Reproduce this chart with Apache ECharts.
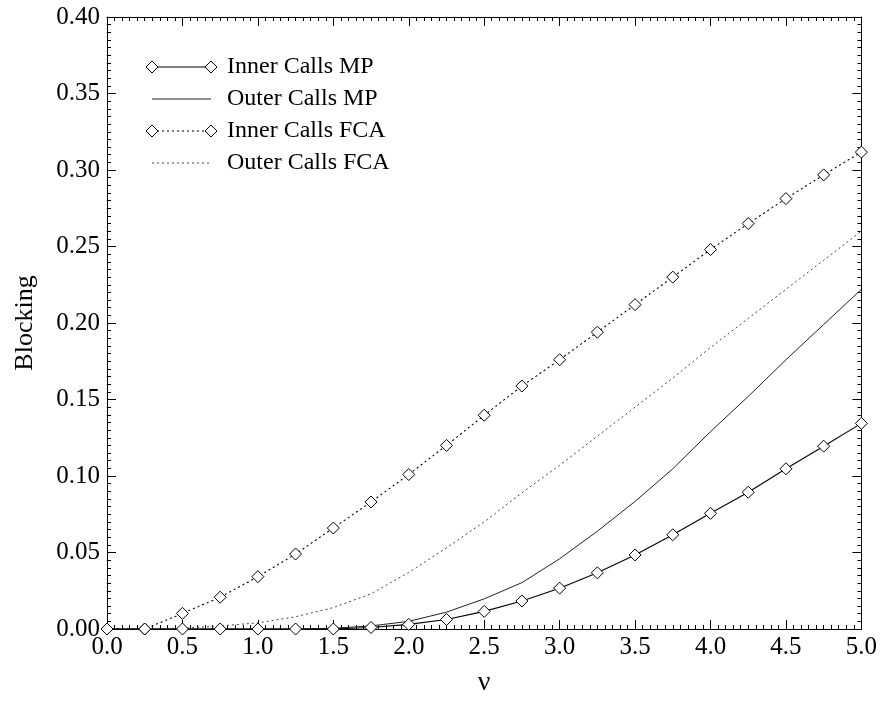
<!DOCTYPE html>
<html><head><meta charset="utf-8">
<script src="https://cdn.jsdelivr.net/npm/echarts@6/dist/echarts.min.js"></script>
<style>html,body{margin:0;padding:0;background:#fff}#c{width:880px;height:702px}</style>
</head><body><div id="c"></div>
<script>
const nu = [0,0.25,0.5,0.75,1.0,1.25,1.5,1.75,2.0,2.25,2.5,2.75,3.0,3.25,3.5,3.75,4.0,4.25,4.5,4.75,5.0];
const innerMP  = [0,0,0,0,0,0,0,0.001,0.003,0.0062,0.0115,0.0183,0.0267,0.0367,0.0484,0.0616,0.0756,0.0894,0.1047,0.1195,0.1344];
const outerMP  = [0,0,0,0,0,0,0.0005,0.002,0.005,0.011,0.0197,0.0303,0.0459,0.0639,0.0834,0.1047,0.129,0.152,0.176,0.199,0.222];
const innerFCA = [0,0,0.0102,0.0208,0.0342,0.049,0.066,0.083,0.101,0.120,0.1397,0.1588,0.176,0.194,0.212,0.230,0.248,0.265,0.2813,0.2968,0.3117];
const outerFCA = [0,0,0.0005,0.002,0.004,0.008,0.014,0.023,0.037,0.053,0.070,0.089,0.107,0.126,0.145,0.164,0.184,0.203,0.222,0.241,0.260];
const names = ['Inner Calls MP','Outer Calls MP','Inner Calls FCA','Outer Calls FCA'];
const xTicks = [0,0.5,1.0,1.5,2.0,2.5,3.0,3.5,4.0,4.5,5.0];
const yTicks = [0,0.05,0.10,0.15,0.20,0.25,0.30,0.35,0.40];

const FONT = 'Liberation Serif';
const diamond = 'path://M0,-1L1,0L0,1L-1,0Z';
const pair = arr => nu.map((x,i)=>[x,arr[i]]);

function xAxis(pos, showLabel){
  return {type:'value', position:pos, min:0, max:5, interval:0.5,
    axisLine:{show:true,onZero:false,lineStyle:{color:'#000',width:1}},
    axisTick:{show:true,inside:true,length:9,lineStyle:{color:'#000'}},
    minorTick:{show:true,splitNumber:10,length:4,lineStyle:{color:'#000'}},
    splitLine:{show:false},
    axisLabel:{show:showLabel,color:'#000',fontFamily:FONT,fontSize:25,margin:6,formatter:v=>v.toFixed(1)},
    name: showLabel?'ν':'', nameLocation:'middle', nameGap:40,
    nameTextStyle:{color:'#000',fontFamily:FONT,fontSize:28}};
}
function yAxis(pos, showLabel){
  return {type:'value', position:pos, min:0, max:0.4, interval:0.05,
    axisLine:{show:true,onZero:false,lineStyle:{color:'#000',width:1}},
    axisTick:{show:true,inside:true,length:9,lineStyle:{color:'#000'}},
    minorTick:{show:true,splitNumber:10,length:4,lineStyle:{color:'#000'}},
    splitLine:{show:false},
    axisLabel:{show:showLabel,color:'#000',fontFamily:FONT,fontSize:25,margin:7,formatter:v=>v.toFixed(2)},
    name: showLabel?'Blocking':'', nameLocation:'middle', nameGap:69,
    nameTextStyle:{color:'#000',fontFamily:FONT,fontSize:26}};
}

// legend drawn as graphic (line sample with diamonds at both ends)
const legendStyles = [
  {dash:null, marker:true, color:'#000', w:1.2},
  {dash:null, marker:false, color:'#222', w:1},
  {dash:[2,3], marker:true, color:'#000', w:1.2},
  {dash:[2,3], marker:false, color:'#444', w:1}
];
const legendGraphic = [];
names.forEach((n,i)=>{
  const y = 67 + 32*i;
  const s = legendStyles[i];
  legendGraphic.push({type:'line', shape:{x1:152,y1:y,x2:211,y2:y},
    style:{stroke:s.color,lineWidth:s.w,lineDash:s.dash}, silent:true});
  if (s.marker){
    [152,211].forEach(cx=>legendGraphic.push({type:'polygon',
      shape:{points:[[cx-6,y],[cx,y-6],[cx+6,y],[cx,y+6]]},
      style:{fill:'#fff',stroke:'#000',lineWidth:1}, silent:true, z:10}));
  }
  legendGraphic.push({type:'text', x:227, y:y,
    style:{text:n, fill:'#000', font:'24px "Liberation Serif"', textVerticalAlign:'middle'}, silent:true});
});

const chart = echarts.init(document.getElementById('c'), null, {renderer:'canvas'});
chart.setOption({
  backgroundColor:'#fff',
  animation:false,
  grid:{left:107,right:15,top:17,bottom:57},
  xAxis:[xAxis('bottom',true), xAxis('top',false)],
  yAxis:[yAxis('left',true), yAxis('right',false)],
  graphic: legendGraphic,
  series:[
    {name:names[0],type:'line',data:pair(innerMP),symbol:diamond,symbolSize:12,showAllSymbol:true,
      lineStyle:{color:'#000',width:1.1,type:'solid'},itemStyle:{color:'#fff',borderColor:'#000',borderWidth:1},z:5},
    {name:names[1],type:'line',data:pair(outerMP),symbol:'none',
      lineStyle:{color:'#222',width:1,type:'solid'}},
    {name:names[2],type:'line',data:pair(innerFCA),symbol:diamond,symbolSize:12,showAllSymbol:true,
      lineStyle:{color:'#000',width:1.1,type:[2,3]},itemStyle:{color:'#fff',borderColor:'#000',borderWidth:1},z:5},
    {name:names[3],type:'line',data:pair(outerFCA),symbol:'none',
      lineStyle:{color:'#444',width:1,type:[2,3]}}
  ]
});
</script></body></html>
